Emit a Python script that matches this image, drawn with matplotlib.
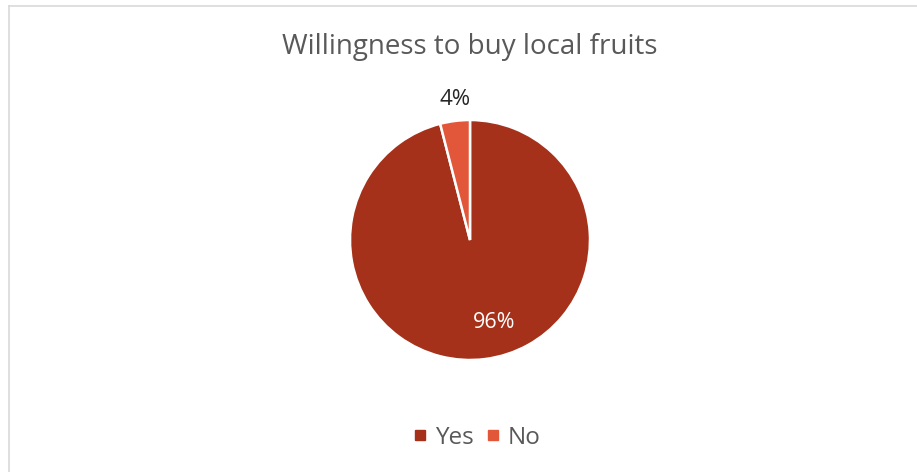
import matplotlib.pyplot as plt
from matplotlib.lines import Line2D

plt.rcParams['font.family'] = ['Open Sans', 'DejaVu Sans']

# Survey answers
answers = ['Yes', 'No']
shares = [96, 4]
colors = ['#A5311A', '#E2573A']

W, H = 917, 472
fig = plt.figure(figsize=(W / 100, H / 100), dpi=100)

# Chart frame (top and left edges show)
fig.add_artist(Line2D([9 / W, 1], [1 - 6 / H, 1 - 6 / H], color='#D9D9D9', lw=1.2))
fig.add_artist(Line2D([9 / W, 9 / W], [1 - 6 / H, 0], color='#D9D9D9', lw=1.2))

fig.text(470 / W, 1 - 47 / H, 'Willingness to buy local fruits', ha='center', va='center',
         fontsize=20, color='#595959')

# Pie axes: centre (470, 240) px, radius 120 px
r = 120
ax = fig.add_axes([(470 - r) / W, (H - 240 - r) / H, 2 * r / W, 2 * r / H])
wedges, _ = ax.pie(shares, colors=colors, startangle=90, counterclock=False,
                   wedgeprops=dict(edgecolor='white', linewidth=1.8))
ax.set_xlim(-1, 1)
ax.set_ylim(-1, 1)
ax.set_aspect('equal')
ax.axis('off')

# Data labels
ax.text(0.2, -0.69, f'{shares[0]}%', ha='center', va='center', fontsize=15.5,
        color='white')
ax.text(-0.125, 1.167, f'{shares[1]}%', ha='center', va='center', fontsize=16,
        color='#262626', clip_on=False)

handles = [Line2D([], [], marker='s', linestyle='none', markersize=7.5,
                  markerfacecolor=c, markeredgecolor=c) for c in colors]
fig.legend(handles, answers, loc='center', bbox_to_anchor=(476 / W, 1 - 438 / H),
           ncol=2, frameon=False, fontsize=17.5, labelcolor='#595959',
           handletextpad=0.25, columnspacing=0.45, handlelength=0.7)

fig.savefig('out.png', dpi=100)
